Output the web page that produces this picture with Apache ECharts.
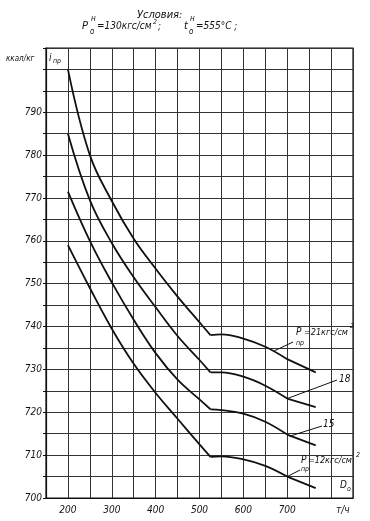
<!DOCTYPE html>
<html><head><meta charset="utf-8">
<script src="https://cdn.jsdelivr.net/npm/echarts@6/dist/echarts.min.js"></script>
<style>html,body{margin:0;padding:0;background:#fff}#c{width:370px;height:521px}</style>
</head><body><div id="c"></div>
<script>
// Steam flow D_o, t/h
const flow = [200, 250, 300, 350, 400, 450, 500, 525, 550, 600, 650, 700, 765];
// Enthalpy i_pr, kcal/kg, for P_pr = 21, 18, 15, 12 kgf/cm2
const p21 = [800, 780, 769.3, 760.5, 753.5, 747, 741, 738, 738.2, 737.2, 735.3, 732.4, 729.3];
const p18 = [785, 769.5, 759.5, 751.5, 744.5, 737.8, 732.2, 729.3, 729.3, 728.3, 726.2, 723.2, 721.2];
const p15 = [771.5, 760, 750.3, 741.6, 733.8, 727.6, 723, 720.7, 720.5, 719.7, 717.8, 714.8, 712.3];
const p12 = [759, 749, 739.5, 731.3, 724.5, 718.5, 712.5, 709.6, 709.7, 709, 707.5, 705, 702.3];
const breakIdx = [0, 7, 11, flow.length - 1];
const xTickLabels = [200, 300, 400, 500, 600, 700];
const yTickLabels = [700, 710, 720, 730, 740, 750, 760, 770, 780, 790];

const FONT = 'DejaVu Sans Condensed';
const ink = '#111';

function seg(vals, a, b) {
  const out = [];
  for (let i = a; i <= b; i++) out.push([flow[i], vals[i]]);
  return out;
}
const series = [];
[p21, p18, p15, p12].forEach(v => {
  for (let k = 0; k < breakIdx.length - 1; k++) {
    series.push({
      type: 'line', data: seg(v, breakIdx[k], breakIdx[k + 1]), smooth: 0.4,
      showSymbol: false, lineStyle: {color: ink, width: 1.8}, silent: true
    });
  }
});

const chart = echarts.init(document.getElementById('c'), null, {renderer: 'canvas'});
const option = {
  animation: false,
  backgroundColor: '#fff',
  grid: {left: 46, right: 17, top: 48, bottom: 23, show: true, borderColor: ink, borderWidth: 1.2},
  xAxis: {
    type: 'value', min: 150, max: 850, interval: 50,
    axisLine: {lineStyle: {color: ink, width: 1.2}},
    axisTick: {show: false},
    splitLine: {lineStyle: {color: '#333', width: 1}},
    axisLabel: {
      color: ink, fontFamily: FONT, fontStyle: 'italic', fontSize: 10, margin: 7,
      formatter: v => xTickLabels.includes(v) ? String(v) : ''
    }
  },
  yAxis: {
    type: 'value', min: 700, max: 805, interval: 5,
    axisLine: {lineStyle: {color: ink, width: 1.2}},
    axisTick: {show: true, length: 3, lineStyle: {color: ink}},
    splitLine: {lineStyle: {color: '#333', width: 1}},
    axisLabel: {
      color: ink, fontFamily: FONT, fontStyle: 'italic', fontSize: 10, margin: 4,
      formatter: v => yTickLabels.includes(v) ? String(v) : ''
    }
  },
  series: series
};
chart.setOption(option);

// Annotations
const T = (x, y, text, size, extra) => Object.assign({
  type: 'text', x: x, y: y, silent: true,
  style: {text: text, fill: ink, font: 'italic ' + (size || 10) + 'px "' + FONT + '"', textVerticalAlign: 'middle'}
}, extra || {});
const L = (p1, p2) => ({type: 'line', silent: true, shape: {x1: p1[0], y1: p1[1], x2: p2[0], y2: p2[1]}, style: {stroke: ink, lineWidth: 1}});
const px = (x, y) => chart.convertToPixel({gridIndex: 0}, [x, y]);

const a21 = px(670, 734.3);
const a18 = px(flow[11], p18[11]);
const a15 = px(705, 714.4);
const a12 = px(flow[11], p12[11]);

const g = [
  T(137, 15, 'Условия:', 11),
  T(82, 26, 'P', 11), T(91, 19, 'н', 8), T(90, 32, 'o', 8),
  T(97, 26, '=130кгс/см', 10), T(153, 22, '2', 7), T(158, 26, ';', 10),
  T(184, 26, 't', 11), T(190, 19, 'н', 8), T(189, 32, 'o', 8),
  T(196, 26, '=555°C ;', 10),
  T(6, 59, 'ккал/кг', 8),
  T(49, 58, 'i', 10), T(53, 61, 'пр', 7),
  T(296, 332, 'P', 10), T(296, 343, 'пр', 7), T(304, 333, '=21кгс/см', 9), T(350, 326, '2', 7),
  T(339, 379, '18', 10),
  T(323, 424, '15', 10),
  T(301, 460, 'P', 10), T(301, 469, 'пр', 7), T(308, 461, '=12кгс/см', 9), T(356, 455, '2', 7),
  T(340, 485, 'D', 10), T(347, 489, 'o', 7),
  T(336, 510, 'т/ч', 10),
  L(a21, [293, 342]),
  L(a18, [337, 380]),
  L(a15, [322, 426]),
  L(a12, [300, 470])
];
chart.setOption({graphic: g});
</script>
</body></html>
